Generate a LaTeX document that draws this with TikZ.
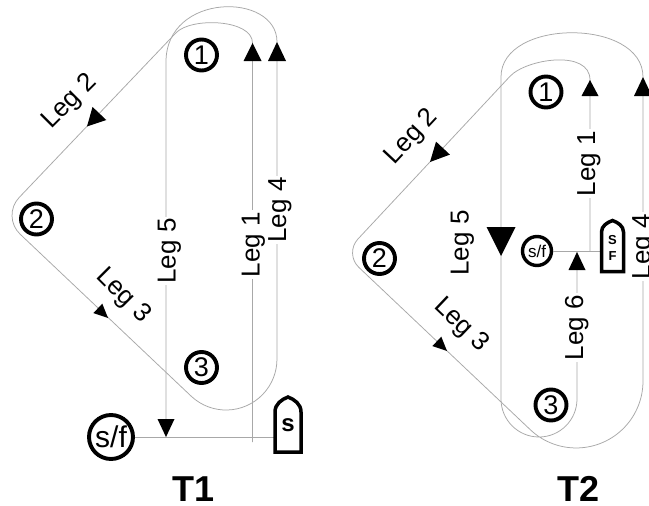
\documentclass[tikz,border=0pt]{standalone}
\usepackage{fontspec}
\setmainfont{Liberation Sans}
\definecolor{coursegray}{gray}{0.66}
\tikzset{
  course/.style={draw=coursegray, line width=0.75pt},
  buoy/.style={circle, draw=black, line width=3.9pt, minimum size=31pt, inner sep=0pt, font=\fontsize{27}{27}\selectfont},
  sfbuoyA/.style={circle, draw=black, line width=3.9pt, minimum size=44pt, inner sep=0pt, font=\fontsize{30}{30}\selectfont},
  sfbuoyB/.style={circle, draw=black, line width=3.4pt, minimum size=29pt, inner sep=0pt, font=\fontsize{17}{17}\selectfont},
  leglabel/.style={fill=white, inner sep=1.5pt, font=\fontsize{26}{26}\selectfont},
  legtext/.style={inner sep=1pt, font=\fontsize{26}{26}\selectfont},
  hull/.style={draw=black, line width=3.5pt, line join=miter},
  boatA/.style={minimum width=26pt, inner sep=0pt, font=\fontsize{24}{24}\selectfont\bfseries},
  boatB/.style={minimum width=22pt, inner sep=0pt, align=center, font=\fontsize{13}{16}\selectfont\bfseries},
  titletext/.style={inner sep=0pt, font=\fontsize{36}{36}\selectfont\bfseries},
}
\newcommand{\tipArrow}[5]{\fill[black, shift={(#1,#2)}, rotate=#3] (0,0) -- (-#4,#5/2) -- (-#4,-#5/2) -- cycle;}
\begin{document}
\begin{tikzpicture}[x=1pt, y=-1pt]
\fill[white] (0,0) rectangle (649,506);
\useasboundingbox (0,0) rectangle (649,506);

% ---------------- T1 ----------------
\coordinate (a1b) at (252.5,442);
\coordinate (a1t) at (252.5,43);
\coordinate (a2s) at (176,32.8);
\coordinate (aL) at (1.25,216.3);
\coordinate (a3e) at (191.1,396.1);
\coordinate (a4t) at (277,42);
\coordinate (a5t) at (166,62);
\coordinate (a5b) at (166,437);

\draw[course] (a1b) -- (a1t) .. controls (252.5,19.2) and (191.2,16.9) .. (a2s);
\draw[course, rounded corners=26pt] (a2s) -- (aL) -- (a3e);
\draw[course] (a3e) arc[start angle=133.4, end angle=0, radius=50.9] -- (a4t)
  .. controls (277,-8) and (166,-8) .. (a5t) -- (a5b);

\node[sfbuoyA] (sf1) at (111,437) {s/f};
\node[boatA] (boat1) at (288,425) {s};
\draw[course] (sf1) -- (sf1 -| boat1.west);
\draw[hull] (275,452) -- (275,412) .. controls (275,404) and (281.5,399.5) .. (288,397)
  .. controls (294.5,399.5) and (301,404) .. (301,412) -- (301,452) -- cycle;

\node[leglabel, rotate=90] (l1a) at (253.5,244.5) {Leg 1};
\node[leglabel, rotate=90] (l4a) at (280,210) {Leg 4};
\node[leglabel, rotate=90] (l5a) at (169.5,251) {Leg 5};
\node[legtext, rotate=45] (l2a) at (70,102) {Leg 2};
\node[legtext, rotate=-45] (l3a) at (123,296) {Leg 3};

\tipArrow{252.5}{43}{90}{18}{18}
\tipArrow{277}{42}{90}{19}{18}
\tipArrow{166}{437}{-90}{18}{17}
\tipArrow{87}{126.5}{226.4}{18}{19}
\tipArrow{108}{318}{-43.4}{14}{13}

\node[buoy] (m1a) at (201.5,55) {1};
\node[buoy] (m2a) at (36.5,219) {2};
\node[buoy] (m3a) at (201.5,367.5) {3};

\node[titletext] (t1) at (194,489) {T1};

% ---------------- T2 ----------------
\coordinate (b1b) at (590,251);
\coordinate (b1t) at (590,80);
\coordinate (b2s) at (510,76.3);
\coordinate (bL) at (344.3,253.6);
\coordinate (b3e) at (530.3,429.7);
\coordinate (b4t) at (643,77);
\coordinate (b5t) at (501,77);
\coordinate (b5b) at (501,399);
\coordinate (b6t) at (577,252);

\draw[course] (b1b) -- (b1t) .. controls (590,49) and (526.4,58.8) .. (b2s);
\draw[course, rounded corners=20pt] (b2s) -- (bL) -- (b3e);
\draw[course] (b3e) arc[start angle=133.4, end angle=0, radius=66.8] -- (b4t)
  .. controls (643,18) and (501,18) .. (b5t) -- (b5b)
  arc[start angle=180, end angle=0, radius=38] -- (b6t);

\node[sfbuoyB] (sf2) at (537,251) {s/f};
\node[boatB] (boat2) at (612.5,247.5) {S\\F};
\draw[course] (sf2) -- (sf2 -| boat2.west);
\draw[hull] (601.5,271.5) -- (601.5,232) .. controls (601.5,226) and (607,222.5) .. (612.5,220.5)
  .. controls (618,222.5) and (623.5,226) .. (623.5,232) -- (623.5,271.5) -- cycle;

\node[leglabel, rotate=90] (l1b) at (589,163.5) {Leg 1};
\node[leglabel, rotate=90] (l4b) at (644,246.5) {Leg 4};
\node[legtext, rotate=90] (l5b) at (462.5,243) {Leg 5};
\node[leglabel, rotate=90] (l6b) at (576.7,327.5) {Leg 6};
\node[legtext, rotate=47] (l2b) at (412,137) {Leg 2};
\node[legtext, rotate=-43.5] (l3b) at (461,325) {Leg 3};

\tipArrow{590}{80}{90}{16}{17}
\tipArrow{643}{77}{90}{19}{18}
\tipArrow{577}{252}{90}{18}{17}
\tipArrow{501}{256}{-90}{29}{29}
\tipArrow{430}{162}{226.9}{19}{19}
\tipArrow{447}{351}{-43.4}{14}{13}

\node[buoy] (m1b) at (546,92) {1};
\node[buoy] (m2b) at (379.5,258.5) {2};
\node[buoy] (m3b) at (551,405) {3};

\node[titletext] (t2) at (579,489) {T2};
\end{tikzpicture}
\end{document}
